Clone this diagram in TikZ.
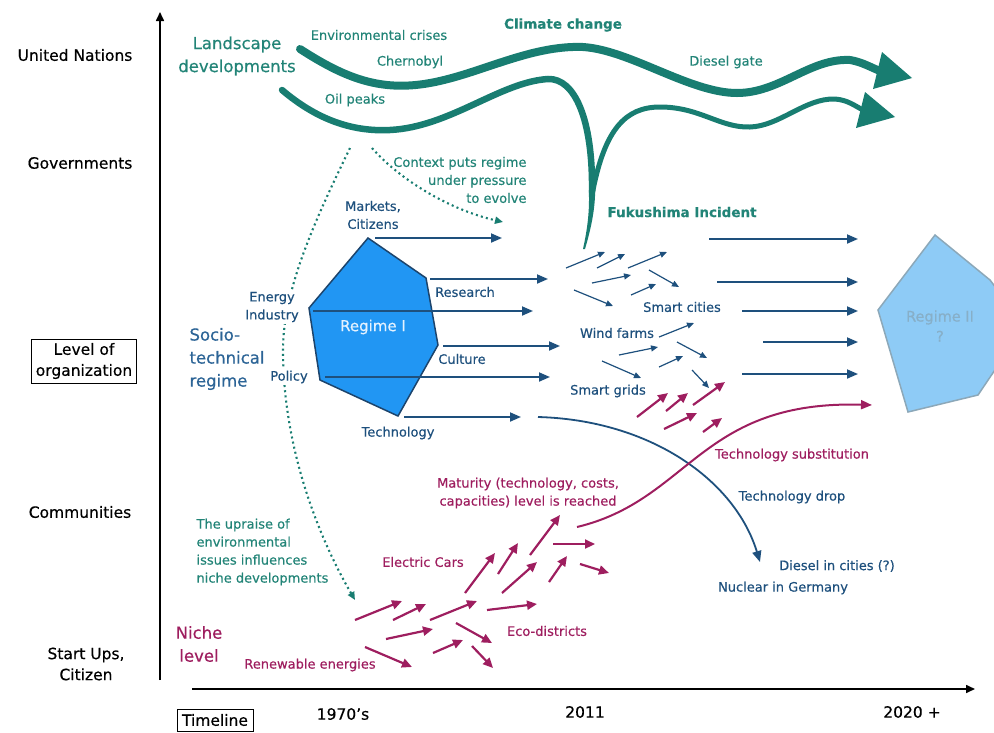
\documentclass[tikz,border=0pt]{standalone}
\usepackage{fontspec}
\setmainfont{DejaVu Sans}[FakeBold=0.45]
\usetikzlibrary{arrows.meta}

\definecolor{landteal}{RGB}{24,125,113}
\definecolor{landtext}{RGB}{34,132,119}
\definecolor{regblue}{RGB}{30,80,125}
\definecolor{sociotext}{RGB}{44,100,150}
\definecolor{regonefill}{RGB}{33,150,243}
\definecolor{regoneedge}{RGB}{28,68,108}
\definecolor{regtwofill}{RGB}{142,203,246}
\definecolor{regtwoedge}{RGB}{140,168,185}
\definecolor{regtwotext}{RGB}{135,175,200}
\definecolor{nichepink}{RGB}{158,30,95}

\begin{document}
\begin{tikzpicture}[x=1pt, y=-1pt, >=stealth,
    lvl/.style={font=\fontsize{15.5}{21}\selectfont, align=center},
    big/.style={font=\fontsize{16.5}{23}\selectfont, align=center},
    lbl/.style={font=\fontsize{13}{18}\selectfont, align=center},
    boldlbl/.style={font=\fontsize{13.5}{16}\selectfont\bfseries},
    band/.style={landteal, line cap=round},
    dots/.style={landteal, line width=2.1pt, dash pattern=on 2pt off 3.2pt, -{Triangle[length=8pt,width=7pt]}},
    regarrow/.style={regblue, line width=1.8pt, -{Triangle[length=11pt,width=9pt]}},
    tinyarrow/.style={regblue, line width=1.2pt, -{Triangle[length=7pt,width=6pt]}},
    nichearrow/.style={nichepink, line width=2.2pt, -{Triangle[length=10pt,width=9pt]}}]
    \useasboundingbox (0,0) rectangle (994,732);

    % Eixos
    \draw[line width=1.6pt, -{Triangle[length=9pt,width=8pt]}] (160,680) -- (160,12);
    \draw[line width=1.6pt, -{Triangle[length=9pt,width=8pt]}] (192,689) -- (975,689);

    % Niveis de organizacao
    \node[lvl] (un) at (75,55) {United Nations};
    \node[lvl] (gov) at (80,163) {Governments};
    \node[lvl, draw, line width=0.8pt, inner sep=4pt] (org) at (84,361) {Level of\\organization};
    \node[lvl] (comm) at (80,512) {Communities};
    \node[lvl] (startups) at (86,664) {Start Ups,\\Citizen};

    % Linha do tempo
    \node[lvl, draw, line width=0.8pt, inner sep=5pt] (timeline) at (215,720) {Timeline};
    \node[lvl] (y1970) at (343,714) {1970’s};
    \node[lvl] (y2011) at (585,712) {2011};
    \node[lvl] (y2020) at (912,712) {2020 +};

    % Paisagem (landscape)
    \draw[band, line width=8pt] (300,49) .. controls (345,78) and (380,92) .. (430,83)
        .. controls (480,74) and (530,45) .. (583,47) .. controls (630,50) and (690,93) .. (737,93)
        .. controls (780,93) and (810,58) .. (850,60) .. controls (862,62) and (870,67) .. (880,71);
    \fill[landteal] (912,78) -- (882,52) -- (873,89) -- cycle;
    \draw[band, line width=6.5pt] (282,90) .. controls (315,118) and (350,132) .. (390,130)
        .. controls (450,127) and (500,82) .. (548,79) .. controls (575,78) and (593,120) .. (592,192);
    \fill[landteal] (588.8,190) .. controls (590,215) and (586,235) .. (583,249) -- (585,249)
        .. controls (590,232) and (595,212) .. (595.2,190) -- cycle;
    \draw[band, line width=5pt] (593,190) .. controls (605,130) and (625,107) .. (660,107)
        .. controls (700,107) and (720,128) .. (750,127) .. controls (780,126) and (805,98) .. (835,99)
        .. controls (848,100) and (855,106) .. (863,110);
    \fill[landteal] (895,117) -- (865,92) -- (856,128) -- cycle;

    \node[big, landtext] (landscape) at (237,56) {Landscape\\developments};
    \node[lbl, landtext] (crises) at (379,35) {Environmental crises};
    \node[boldlbl, landtext] (climate) at (563,25) {Climate change};
    \node[lbl, landtext] (chernobyl) at (410,62) {Chernobyl};
    \node[lbl, landtext] (dieselgate) at (726,62) {Diesel gate};
    \node[lbl, landtext] (oil) at (355,100) {Oil peaks};
    \node[lbl, landtext, align=right, anchor=east] (context) at (530,180) {Context puts regime\\under pressure\\to evolve};
    \node[boldlbl, landtext] (fukushima) at (682,212) {Fukushima Incident};

    % Influencias pontilhadas
    \draw[dots] (372,148) .. controls (400,180) and (450,210) .. (503,222);
    \draw[dots] (350,148) .. controls (315,220) and (283,290) .. (283,350)
        .. controls (283,450) and (320,540) .. (355,600);

    % Regime I
    \filldraw[fill=regonefill, draw=regoneedge, line width=1.5pt] (368,238) -- (426,278) -- (438,345)
        -- (398,416) -- (320,380) -- (309,308) -- cycle;
    \node[font=\fontsize{15}{18}\selectfont, text={rgb,255:red,228;green,242;blue,255}] (regI) at (373,327) {Regime I};
    \foreach \xa/\ya/\xb/\yb in {375/238/502/238, 430/279/548/279, 313/311/533/311,
        443/346/560/346, 325/377/550/377, 404/417/521/417}
        \draw[regarrow] (\xa,\ya) -- (\xb,\yb);

    \node[big, sociotext, align=left, anchor=west] (socio) at (186,359) {Socio-\\technical\\regime};
    \node[lbl, regblue] (markets) at (373,215) {Markets,\\Citizens};
    \node[lbl, regblue, fill=white, inner sep=2pt] (energy) at (272,307) {Energy\\Industry};
    \node[lbl, regblue, fill=white, inner sep=2pt] (policy) at (289,377) {Policy};
    \node[lbl, regblue] (research) at (465,292) {Research};
    \node[lbl, regblue] (culture) at (462,359) {Culture};
    \node[lbl, regblue] (technology) at (398,433) {Technology};

    % Experimentos no meio
    \foreach \xa/\ya/\xb/\yb in {566/268/605/252, 597/268/625/254, 628/268/667/252, 592/283/631/275,
        649/270/679/287, 631/295/656/284, 574/290/613/306, 659/337/694/323, 619/355/658/347,
        677/342/707/358, 659/367/683/356, 602/361/641/378, 692/370/709/388}
        \draw[tinyarrow] (\xa,\ya) -- (\xb,\yb);
    \node[lbl, regblue] (smartcities) at (682,307) {Smart cities};
    \node[lbl, regblue] (windfarms) at (617,333) {Wind farms};
    \node[lbl, regblue] (smartgrids) at (608,391) {Smart grids};

    % Rumo ao regime II
    \foreach \xa/\ya/\xb/\yb in {709/239/858/239, 717/282/858/282, 742/311/858/311,
        763/342/858/342, 742/374/858/374}
        \draw[regarrow] (\xa,\ya) -- (\xb,\yb);
    \filldraw[fill=regtwofill, draw=regtwoedge, line width=1.5pt] (935,235) -- (990,280) -- (1005,300)
        -- (1005,355) -- (978,395) -- (908,412) -- (878,310) -- cycle;
    \node[font=\fontsize{14.5}{20}\selectfont, align=center, regtwotext] (regII) at (940,326) {Regime II\\?};

    % Substituicao e queda
    \draw[regblue, line width=1.8pt, -{Triangle[length=11pt,width=9pt]}] (538,417) .. controls (650,420) and (735,480) .. (760,562);
    \draw[nichepink, line width=2pt, -{Triangle[length=11pt,width=9pt]}] (577,527) .. controls (690,500) and (700,400) .. (872,405);
    \node[lbl, nichepink] (techsub) at (792,455) {Technology substitution};
    \node[lbl, regblue] (techdrop) at (792,497) {Technology drop};
    \node[lbl, regblue] (dieselcities) at (837,566) {Diesel in cities (?)};
    \node[lbl, regblue] (nuclear) at (783,588) {Nuclear in Germany};

    % Nichos
    \foreach \xa/\ya/\xb/\yb in {637/417/668/393, 666/411/688/393, 693/405/725/382,
        664/429/697/413, 703/432/722/418,
        355/620/402/601, 393/620/426/604, 430/620/477/601, 386/639/433/629, 365/647/412/667,
        456/623/492/643, 433/653/463/640, 472/646/493/668, 465/593/495/553, 498/574/518/543,
        502/593/537/562, 487/610/537/604, 530/555/560/515, 549/582/567/556, 553/544/595/544,
        580/564/609/573}
        \draw[nichearrow] (\xa,\ya) -- (\xb,\yb);
    \node[big, nichepink] (niche) at (199,644) {Niche\\level};
    \node[lbl, nichepink] (maturity) at (528,493) {Maturity (technology, costs,\\capacities) level is reached};
    \node[lbl, nichepink] (electric) at (423,562) {Electric Cars};
    \node[lbl, nichepink] (eco) at (547,631) {Eco-districts};
    \node[lbl, nichepink] (renewable) at (310,665) {Renewable energies};
    \node[lbl, landtext, align=left, anchor=west] (upraise) at (193,552) {The upraise of\\environmental\\issues influences\\niche developments};
\end{tikzpicture}
\end{document}
